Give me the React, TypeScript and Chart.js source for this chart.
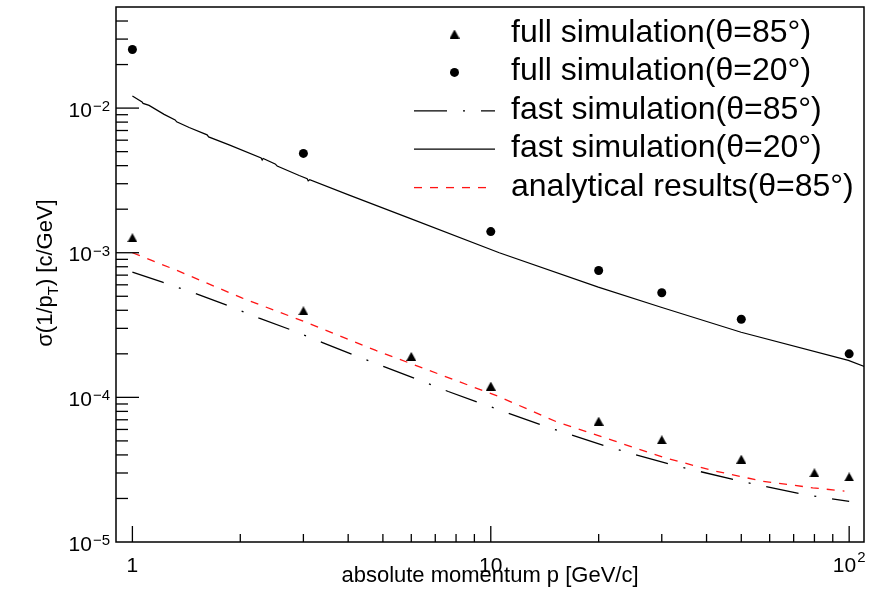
import React, { useEffect, useRef } from 'react';
import { Chart, registerables } from 'chart.js';

Chart.register(...registerables);

// ---- data -------------------------------------------------------------
// full simulation, theta = 85 deg (triangles)
const fullSim85P = [1, 3, 6, 10, 20, 30, 50, 80, 100];
const fullSim85Sigma = [0.00127, 0.000397, 0.000192, 0.0001196, 6.85e-5, 5.09e-5, 3.74e-5, 3.01e-5, 2.82e-5];

// full simulation, theta = 20 deg (circles)
const fullSim20P = [1, 3, 10, 20, 30, 50, 100];
const fullSim20Sigma = [0.0254, 0.00486, 0.0014, 0.000754, 0.000529, 0.000347, 0.0002];

// fast simulation, theta = 85 deg (dash-dot)
const fastSim85P = [1, 1.213, 1.503, 1.842, 2.258, 2.768, 3.392, 4.114, 5.077, 6.18, 7.61, 9.29, 13.95, 21.05, 31.97, 48.87, 74.56, 100];
const fastSim85Sigma = [7.34e-4, 6.26e-4, 5.21e-4, 4.32e-4, 3.53e-4, 2.93e-4, 2.39e-4, 1.98e-4, 1.618e-4, 1.345e-4, 1.098e-4, 9.18e-5, 6.39e-5, 4.57e-5, 3.42e-5, 2.66e-5, 2.13e-5, 1.91e-5];

// fast simulation, theta = 20 deg (solid, with small steps at low p)
const fastSim20P = [1, 1.064, 1.071, 1.113, 1.226, 1.316, 1.329, 1.44, 1.616, 1.632, 1.862, 2.287, 2.302, 2.317, 2.502, 2.535, 2.92, 3.074, 3.094, 3.124, 4.027, 5.924, 10.56, 19.95, 29.87, 49.95, 99.5, 110.3];
const fastSim20Sigma = [0.01214, 0.01104, 0.01078, 0.01044, 0.00905, 0.00829, 0.00803, 0.00735, 0.00653, 0.00632, 0.00557, 0.00452, 0.00438, 0.00449, 0.00411, 0.00398, 0.00342, 0.00325, 0.00314, 0.0032, 0.0025, 0.001734, 0.001, 0.000578, 0.00042, 0.000282, 0.00018, 0.0001636];

// analytical results, theta = 85 deg (red dashed)
const analyticP = [1, 1.322, 2.028, 3.049, 4.78, 7.336, 10.45, 15.2, 21.88, 30.17, 41.6, 57.4, 79.1, 97.0];
const analyticSigma = [0.001, 0.00076, 0.000485, 0.000331, 0.000211, 0.0001417, 0.000102, 6.81e-5, 5.04e-5, 3.86e-5, 3.12e-5, 2.63e-5, 2.37e-5, 2.25e-5];

// axes
const xMin = 0.9;
const xMax = 110;
const yMin = 1e-5;
const yMax = 0.05;
const xMajorTicks = [1, 10, 100];
const xTickBase = ['1', '10', '10'];
const xTickExp = ['', '', '2'];
const yMajorTicks = [1e-5, 1e-4, 1e-3, 1e-2];
const yTickBase = ['10', '10', '10', '10'];
const yTickExp = ['\u22125', '\u22124', '\u22123', '\u22122'];

const legendLabels = [
  'full simulation(\u03b8=85\u00b0)',
  'full simulation(\u03b8=20\u00b0)',
  'fast simulation(\u03b8=85\u00b0)',
  'fast simulation(\u03b8=20\u00b0)',
  'analytical results(\u03b8=85\u00b0)',
];

const xTitle = 'absolute momentum p [GeV/c]';

// ---- styling ----------------------------------------------------------
const FAMILY = '"Liberation Sans", Arial, Helvetica, sans-serif';
const TICK_FONT = 21;
const SUP_FONT = 15;
const TITLE_FONT = 22;
const LEGEND_FONT = 32;
const RED = 'rgb(255,20,20)';
const DASH_DOT = [33, 16, 2, 16];
const DASHED = [8, 8];

const zip = (xs: number[], ys: number[]) => xs.map((x, i) => ({ x, y: ys[i] }));

function makeTriangle(w: number, h: number): HTMLCanvasElement {
  const c = document.createElement('canvas');
  c.width = w;
  c.height = h;
  const g = c.getContext('2d')!;
  g.fillStyle = '#000';
  g.beginPath();
  g.moveTo(w / 2, 0);
  g.lineTo(w, h);
  g.lineTo(0, h);
  g.closePath();
  g.fill();
  return c;
}

function drawPower(
  ctx: CanvasRenderingContext2D,
  base: string,
  exp: string,
  x: number,
  baseline: number,
  supBaseline: number,
  align: 'right' | 'center'
) {
  const main = `${TICK_FONT}px ${FAMILY}`;
  const sup = `${SUP_FONT}px ${FAMILY}`;
  ctx.font = main;
  const bw = ctx.measureText(base).width;
  ctx.font = sup;
  const ew = exp ? ctx.measureText(exp).width + 1 : 0;
  const total = bw + ew;
  const x0 = align === 'right' ? x - total : x - total / 2;
  ctx.textAlign = 'left';
  ctx.textBaseline = 'alphabetic';
  ctx.font = main;
  ctx.fillText(base, x0, baseline);
  if (exp) {
    ctx.font = sup;
    ctx.fillText(exp, x0 + bw + 1, supBaseline);
  }
}

const frameDecor = {
  id: 'frameDecor',
  afterDraw(chart: any) {
    const { ctx, chartArea: a } = chart;
    const xs = chart.scales.x;
    const ys = chart.scales.y;
    ctx.save();
    ctx.strokeStyle = '#000';
    ctx.fillStyle = '#000';

    // frame
    ctx.lineWidth = 1.5;
    ctx.strokeRect(a.left, a.top, a.right - a.left, a.bottom - a.top);

    // y ticks (inside, from the left edge)
    ctx.lineWidth = 1.3;
    for (let e = -5; e <= -2; e++) {
      for (let m = 1; m <= 9; m++) {
        const v = Number((m * Math.pow(10, e)).toPrecision(3));
        if (v <= yMin * 1.0001 || v >= yMax * 0.9999) continue;
        const py = ys.getPixelForValue(v);
        ctx.beginPath();
        ctx.moveTo(a.left, py);
        ctx.lineTo(a.left + (m === 1 ? 23 : 12), py);
        ctx.stroke();
      }
    }
    // x ticks (inside, from the bottom edge)
    for (let e = -1; e <= 2; e++) {
      for (let m = 1; m <= 9; m++) {
        const v = Number((m * Math.pow(10, e)).toPrecision(3));
        if (v <= xMin * 1.0001 || v >= xMax * 0.9999) continue;
        const px = xs.getPixelForValue(v);
        ctx.beginPath();
        ctx.moveTo(px, a.bottom);
        ctx.lineTo(px, a.bottom - (m === 1 ? 16 : 8));
        ctx.stroke();
      }
    }

    // tick labels
    yMajorTicks.forEach((v, i) => {
      const py = ys.getPixelForValue(v);
      drawPower(ctx, yTickBase[i], yTickExp[i], a.left - 6, py + 8.5, py + 3, 'right');
    });
    xMajorTicks.forEach((v, i) => {
      const px = xs.getPixelForValue(v);
      drawPower(ctx, xTickBase[i], xTickExp[i], px, a.bottom + 29.5, a.bottom + 19.5, 'center');
    });

    // x title
    ctx.font = `${TITLE_FONT}px ${FAMILY}`;
    ctx.textAlign = 'center';
    ctx.fillText(xTitle, (a.left + a.right) / 2, a.bottom + 39.5);

    // y title, rotated: sigma(1/p_T) [c/GeV]
    const parts = [
      { t: '\u03c3(1/p', size: TITLE_FONT, dy: 0 },
      { t: 'T', size: 15, dy: 6 },
      { t: ') [c/GeV]', size: TITLE_FONT, dy: 0 },
    ];
    let total = 0;
    const widths = parts.map((p) => {
      ctx.font = `${p.size}px ${FAMILY}`;
      const w = ctx.measureText(p.t).width;
      total += w;
      return w;
    });
    ctx.save();
    ctx.translate(52, (a.top + a.bottom) / 2 - 1.5);
    ctx.rotate(-Math.PI / 2);
    ctx.textAlign = 'left';
    let u = -total / 2;
    parts.forEach((p, i) => {
      ctx.font = `${p.size}px ${FAMILY}`;
      ctx.fillText(p.t, u, p.dy);
      u += widths[i];
    });
    ctx.restore();

    // legend
    const x0 = 414;
    const x1 = 495;
    const mx = 454.5;
    const tx = 511;
    const rowY = (i: number) => 34 + i * 38.4;
    const tri = chart.data.datasets[0].pointStyle as HTMLCanvasElement;
    ctx.drawImage(tri, mx - tri.width / 2, rowY(0) - tri.height / 2);
    ctx.beginPath();
    ctx.arc(mx, rowY(1), 4.5, 0, Math.PI * 2);
    ctx.fill();
    ctx.lineWidth = 1.3;
    ctx.setLineDash(DASH_DOT);
    ctx.beginPath();
    ctx.moveTo(x0, rowY(2));
    ctx.lineTo(x1, rowY(2));
    ctx.stroke();
    ctx.setLineDash([]);
    ctx.beginPath();
    ctx.moveTo(x0, rowY(3));
    ctx.lineTo(x1, rowY(3));
    ctx.stroke();
    ctx.strokeStyle = RED;
    ctx.setLineDash(DASHED);
    ctx.beginPath();
    ctx.moveTo(x0, rowY(4));
    ctx.lineTo(x0 + 72, rowY(4));
    ctx.stroke();
    ctx.setLineDash([]);

    ctx.font = `${LEGEND_FONT}px ${FAMILY}`;
    ctx.textAlign = 'left';
    ctx.fillStyle = '#000';
    legendLabels.forEach((t, i) => ctx.fillText(t, tx, rowY(i) + 8));

    ctx.restore();
  },
};

export default function App() {
  const ref = useRef<HTMLCanvasElement | null>(null);

  useEffect(() => {
    if (!ref.current) return;
    const tri = makeTriangle(10, 9);
    const chart = new Chart(ref.current, {
      type: 'scatter',
      data: {
        datasets: [
          {
            label: legendLabels[0],
            data: zip(fullSim85P, fullSim85Sigma),
            pointStyle: tri as any,
            pointRadius: 5,
            showLine: false,
            backgroundColor: '#000',
            borderColor: '#000',
          },
          {
            label: legendLabels[1],
            data: zip(fullSim20P, fullSim20Sigma),
            pointStyle: 'circle',
            pointRadius: 4.5,
            pointBorderWidth: 0,
            showLine: false,
            backgroundColor: '#000',
            borderColor: '#000',
          },
          {
            label: legendLabels[2],
            data: zip(fastSim85P, fastSim85Sigma),
            showLine: true,
            pointRadius: 0,
            borderColor: '#000',
            borderWidth: 1.3,
            borderDash: DASH_DOT,
            tension: 0,
          },
          {
            label: legendLabels[3],
            data: zip(fastSim20P, fastSim20Sigma),
            showLine: true,
            pointRadius: 0,
            borderColor: '#000',
            borderWidth: 1.2,
            tension: 0,
          },
          {
            label: legendLabels[4],
            data: zip(analyticP, analyticSigma),
            showLine: true,
            pointRadius: 0,
            borderColor: RED,
            borderWidth: 1.3,
            borderDash: DASHED,
            tension: 0,
          },
        ],
      },
      options: {
        responsive: false,
        animation: false,
        devicePixelRatio: 1,
        events: [],
        layout: { padding: { left: 116, top: 7, right: 19, bottom: 51 } },
        scales: {
          x: { type: 'logarithmic', min: xMin, max: xMax, display: false },
          y: { type: 'logarithmic', min: yMin, max: yMax, display: false },
        },
        plugins: {
          legend: { display: false },
          tooltip: { enabled: false },
        },
      },
      plugins: [frameDecor],
    });
    return () => chart.destroy();
  }, []);

  return (
    <div style={{ position: 'fixed', left: 0, top: 0, width: 883, height: 593, background: '#fff' }}>
      <canvas ref={ref} width={883} height={593} style={{ display: 'block' }} />
    </div>
  );
}
